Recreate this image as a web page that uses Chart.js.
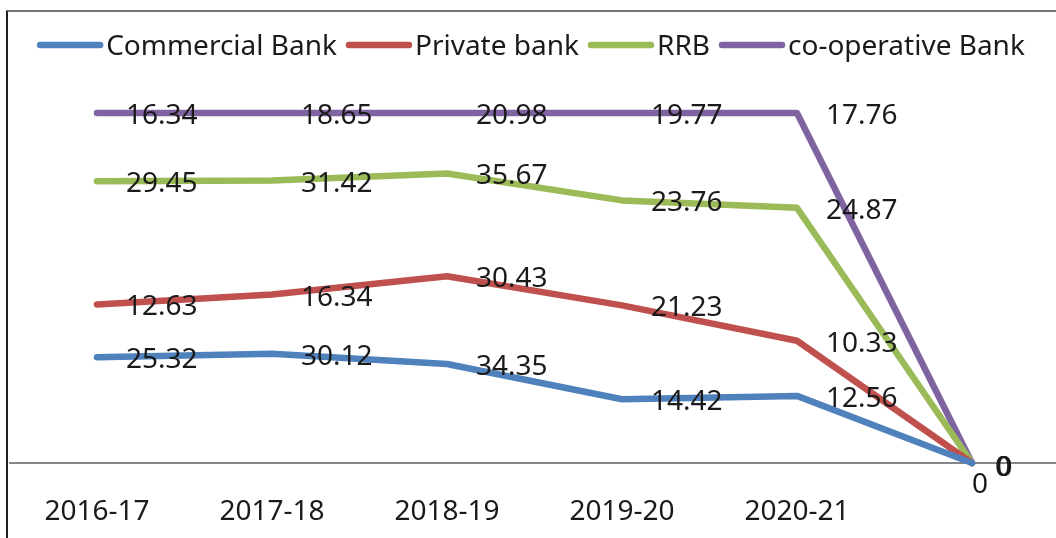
<!DOCTYPE html>
<html>
<head>
<meta charset="utf-8">
<script src="https://cdn.jsdelivr.net/npm/chart.js@4"></script>
<style>
  html, body { margin: 0; padding: 0; background: #fff; overflow: hidden; }
  #wrap { position: relative; width: 1070px; height: 538px; }
  #frame { position: absolute; left: 6px; top: 10px; width: 1100px; height: 600px;
           border-left: 2px solid #1e1e1e; border-top: 2px solid #767676; pointer-events: none; }
</style>
</head>
<body>
<div id="wrap">
  <canvas id="line-chart" width="1070" height="538"></canvas>
  <div id="frame"></div>
</div>
<script>
var years = ['2016-17', '2017-18', '2018-19', '2019-20', '2020-21', ''];
var commercial = [25.32, 30.12, 34.35, 14.42, 12.56, 0];
var privateBank = [12.63, 16.34, 30.43, 21.23, 10.33, 0];
var rrb = [29.45, 31.42, 35.67, 23.76, 24.87, 0];
var coop = [16.34, 18.65, 20.98, 19.77, 17.76, 0];

var seriesNames = ['Commercial Bank', 'Private bank', 'RRB', 'co-operative Bank'];
var seriesColors = ['#4f81bd', '#c0504d', '#9bbb59', '#8064a2'];
var seriesValues = [commercial, privateBank, rrb, coop];

var FONT = "'Noto Sans', 'DejaVu Sans', sans-serif";

// 100% stacked: each series as a share of the year's total
function shares(values) {
  return values.map(function (v, i) {
    var total = 0;
    seriesValues.forEach(function (s) { total += s[i]; });
    return total ? v / total * 100 : 0;
  });
}

var datasets = seriesValues.map(function (vals, k) {
  return {
    label: seriesNames[k],
    data: shares(vals),
    raw: vals,
    borderColor: seriesColors[k],
    backgroundColor: seriesColors[k],
    borderWidth: 6.5,
    borderJoinStyle: 'round',
    borderCapStyle: 'round',
    tension: 0,
    pointRadius: 0,
    fill: false,
    clip: false
  };
});

// value labels to the right of each point
var valueLabels = {
  id: 'valueLabels',
  afterDatasetsDraw: function (chart) {
    var ctx = chart.ctx;
    ctx.save();
    ctx.font = '28px ' + FONT;
    ctx.fillStyle = '#1a1a1a';
    ctx.textBaseline = 'alphabetic';
    chart.data.datasets.forEach(function (ds, k) {
      var meta = chart.getDatasetMeta(k);
      meta.data.forEach(function (pt, i) {
        var txt = String(ds.raw[i]);
        if (i === meta.data.length - 1) {
          if (k === 0) {
            ctx.textAlign = 'center';
            ctx.fillText(txt, pt.x + 8, pt.y + 30);
          } else {
            ctx.textAlign = 'left';
            ctx.fillText(txt, pt.x + 23 + (k - 1) * 0.7, pt.y + 13);
          }
          return;
        }
        ctx.textAlign = 'left';
        ctx.fillText(txt, pt.x + 29, pt.y + 11);
      });
    });
    ctx.restore();
  }
};

// legend row with line markers
var lineLegend = {
  id: 'lineLegend',
  afterDraw: function (chart) {
    var ctx = chart.ctx;
    ctx.save();
    ctx.font = '28px ' + FONT;
    var markW = 66, gap = 3, itemGap = 9;
    var widths = seriesNames.map(function (n) { return ctx.measureText(n).width; });
    var total = 0;
    widths.forEach(function (w) { total += markW + gap + w; });
    total += itemGap * (seriesNames.length - 1);
    var x = 531 - total / 2;
    var y = 45;
    seriesNames.forEach(function (n, k) {
      ctx.strokeStyle = seriesColors[k];
      ctx.lineWidth = 6.5;
      ctx.lineCap = 'round';
      ctx.beginPath();
      ctx.moveTo(x + 3, y);
      ctx.lineTo(x + markW - 3, y);
      ctx.stroke();
      ctx.fillStyle = '#1a1a1a';
      ctx.textAlign = 'left';
      ctx.textBaseline = 'alphabetic';
      ctx.fillText(n, x + markW + gap, y + 10);
      x += markW + gap + widths[k] + itemGap;
    });
    ctx.restore();
  }
};

var ctx = document.getElementById('line-chart').getContext('2d');
var chart = new Chart(ctx, {
  type: 'line',
  data: { labels: years, datasets: datasets },
  options: {
    responsive: false,
    animation: false,
    layout: { padding: { left: 9.5, right: 10.5, top: 113, bottom: 0 } },
    plugins: {
      legend: { display: false },
      tooltip: { enabled: false }
    },
    scales: {
      x: {
        offset: true,
        grid: { display: false, drawTicks: false },
        border: { display: true, color: '#878787', width: 2 },
        ticks: { font: { family: FONT, size: 28 }, color: '#1a1a1a', padding: 32, maxRotation: 0 },
        afterFit: function (scale) { scale.height = 75; }
      },
      y: {
        display: false,
        stacked: true,
        min: 0,
        max: 100
      }
    }
  },
  plugins: [valueLabels, lineLegend]
});
</script>
</body>
</html>
